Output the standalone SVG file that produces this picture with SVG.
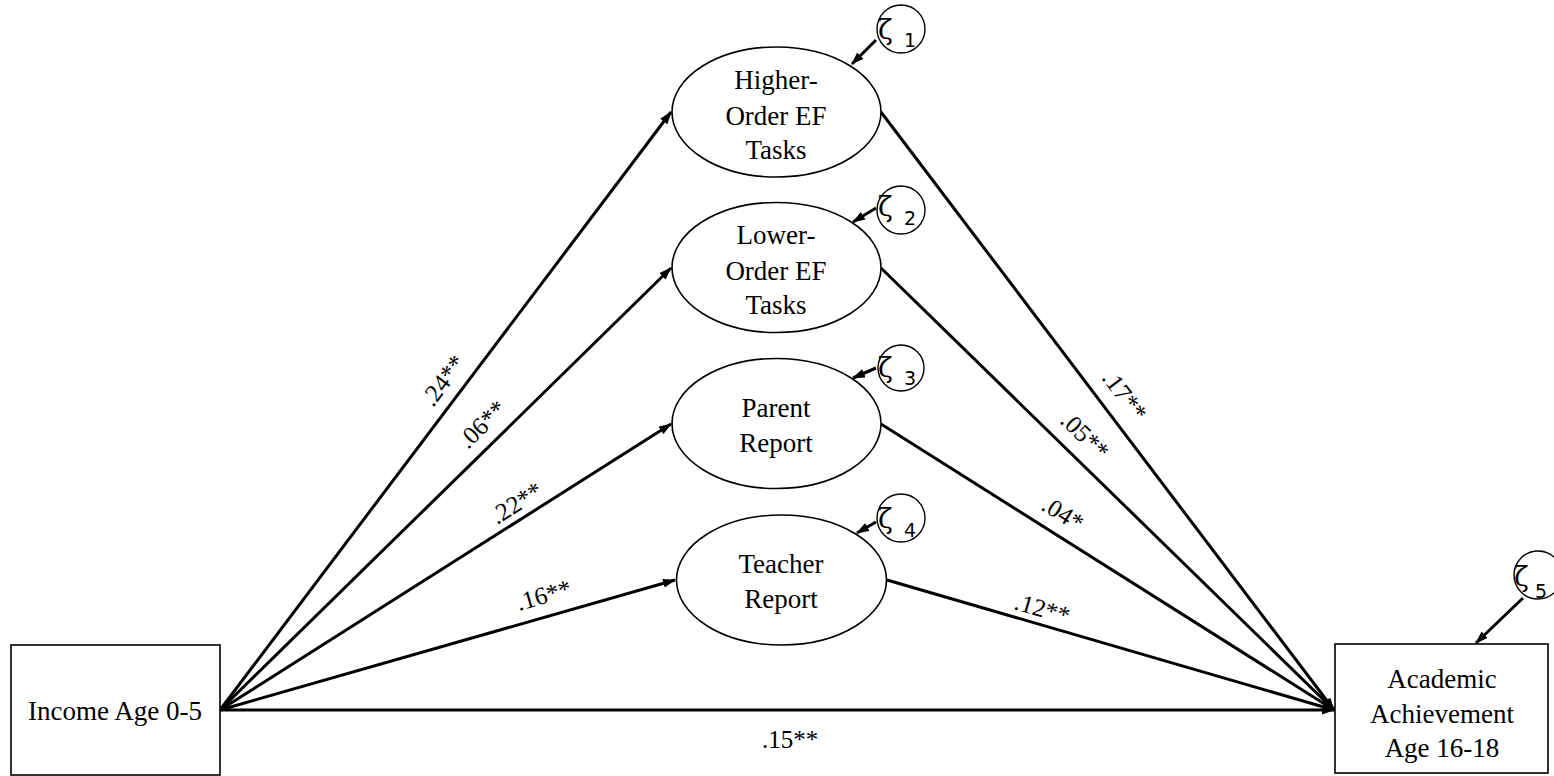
<svg xmlns="http://www.w3.org/2000/svg" width="1554" height="776" viewBox="0 0 1554 776">
  <style>
    .box { fill: #fff; stroke: #000; stroke-width: 1.6; }
    .lat { fill: #fff; stroke: #000; stroke-width: 1.6; }
    .res { fill: #fff; stroke: #000; stroke-width: 1.4; }
    .lbl { font-family: "Liberation Serif", "Times New Roman", serif; font-size: 27px; fill: #000; text-anchor: middle; }
    .coef { font-family: "Liberation Serif", "Times New Roman", serif; font-size: 25px; fill: #000; }
    .zeta { font-family: "DejaVu Serif", serif; font-size: 27px; fill: #000; }
    .sub { font-family: "DejaVu Sans", sans-serif; font-size: 19px; fill: #000; }
    .path { stroke: #000; stroke-width: 3; fill: none; marker-end: url(#arr); }
  </style>
  <defs>
    <marker id="arr" markerUnits="userSpaceOnUse" markerWidth="14" markerHeight="10" refX="12" refY="4.5" orient="auto">
      <path d="M0,0 L13,4.5 L0,9 Z" fill="#000"/>
    </marker>
  </defs>
  <rect width="1554" height="776" fill="#fff"/>

  <!-- structural paths -->
  <g id="connectors">
    <line class="path" x1="220" y1="710" x2="671" y2="112"/>
    <line class="path" x1="220" y1="710" x2="671" y2="268"/>
    <line class="path" x1="220" y1="710" x2="671" y2="424"/>
    <line class="path" x1="220" y1="710" x2="675" y2="580"/>
    <line class="path" x1="881" y1="112" x2="1334" y2="710"/>
    <line class="path" x1="881" y1="268" x2="1334" y2="710"/>
    <line class="path" x1="881" y1="424" x2="1334" y2="710"/>
    <line class="path" x1="887" y1="580" x2="1334" y2="710"/>
    <line class="path" x1="220" y1="710" x2="1334" y2="710"/>
    <!-- disturbance paths -->
    <line class="path" x1="876" y1="40" x2="852" y2="64"/>
    <line class="path" x1="876" y1="208" x2="853" y2="222"/>
    <line class="path" x1="876" y1="368" x2="853" y2="378"/>
    <line class="path" x1="876" y1="522" x2="857" y2="533"/>
    <line class="path" x1="1523" y1="598" x2="1476" y2="643"/>
  </g>

  <!-- path coefficients -->
  <g id="coefficients">
    <text class="coef" transform="translate(433,408) rotate(-53)">.24**</text>
    <text class="coef" transform="translate(468,450) rotate(-44.5)">.06**</text>
    <text class="coef" transform="translate(497,525) rotate(-32)">.22**</text>
    <text class="coef" transform="translate(519,611) rotate(-16)">.16**</text>
    <text class="coef" transform="translate(1101,378) rotate(52.8)">.17**</text>
    <text class="coef" transform="translate(1059,422) rotate(44.2)">.05**</text>
    <text class="coef" transform="translate(1040,509) rotate(32)">.04*</text>
    <text class="coef" transform="translate(1013,609) rotate(16)">.12**</text>
    <text class="coef" x="790" y="748" text-anchor="middle">.15**</text>
  </g>

  <g id="income">
    <rect class="box" x="11" y="645" width="209" height="130"/>
    <text class="lbl" x="115" y="720">Income Age 0-5</text>
  </g>

  <g id="achievement">
    <rect class="box" x="1335" y="644" width="213" height="129"/>
    <text class="lbl" x="1442" y="688">Academic</text>
    <text class="lbl" x="1442" y="723">Achievement</text>
    <text class="lbl" x="1442" y="757">Age 16-18</text>
  </g>

  <g id="higher-order">
    <ellipse class="lat" cx="776.5" cy="112" rx="104.5" ry="65"/>
    <text class="lbl" x="776" y="89">Higher-</text>
    <text class="lbl" x="776" y="125">Order EF</text>
    <text class="lbl" x="776" y="159">Tasks</text>
  </g>

  <g id="lower-order">
    <ellipse class="lat" cx="776.5" cy="267.5" rx="104.5" ry="65"/>
    <text class="lbl" x="776" y="244">Lower-</text>
    <text class="lbl" x="776" y="280">Order EF</text>
    <text class="lbl" x="776" y="314">Tasks</text>
  </g>

  <g id="parent-report">
    <ellipse class="lat" cx="776.5" cy="423.5" rx="104.5" ry="65"/>
    <text class="lbl" x="776" y="417">Parent</text>
    <text class="lbl" x="776" y="452">Report</text>
  </g>

  <g id="teacher-report">
    <ellipse class="lat" cx="781.5" cy="580" rx="105" ry="65"/>
    <text class="lbl" x="781" y="573">Teacher</text>
    <text class="lbl" x="781" y="608">Report</text>
  </g>

  <g id="zeta1">
    <circle class="res" cx="901" cy="29" r="24"/>
    <text class="zeta" x="878" y="39">ζ</text>
    <text class="sub" x="904" y="47">1</text>
  </g>
  <g id="zeta2">
    <circle class="res" cx="901" cy="210" r="24"/>
    <text class="zeta" x="878" y="216">ζ</text>
    <text class="sub" x="904" y="225">2</text>
  </g>
  <g id="zeta3">
    <circle class="res" cx="901" cy="368" r="23"/>
    <text class="zeta" x="878" y="377">ζ</text>
    <text class="sub" x="904" y="385">3</text>
  </g>
  <g id="zeta4">
    <circle class="res" cx="901" cy="518" r="24"/>
    <text class="zeta" x="878" y="528">ζ</text>
    <text class="sub" x="904" y="537">4</text>
  </g>
  <g id="zeta5">
    <circle class="res" cx="1538" cy="575" r="24"/>
    <text class="zeta" x="1514" y="586">ζ</text>
    <text class="sub" x="1535" y="598">5</text>
  </g>
</svg>
